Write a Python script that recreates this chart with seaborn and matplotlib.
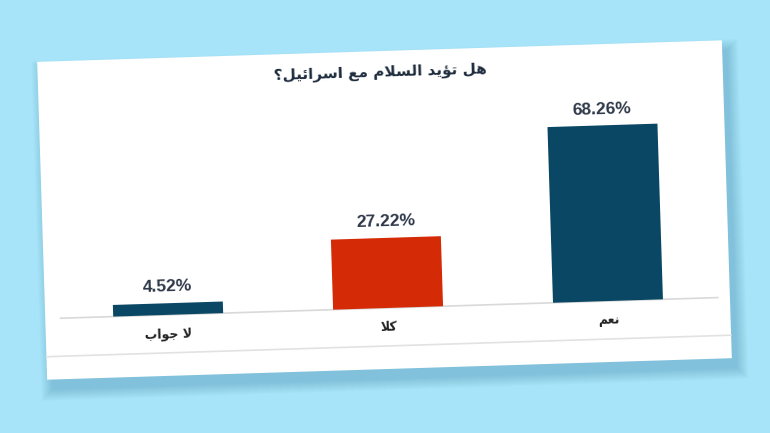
import matplotlib
matplotlib.use("Agg")
import matplotlib.pyplot as plt
from matplotlib.transforms import Affine2D
from matplotlib.patches import Rectangle
import seaborn as sns

# === Data ===
title = "هل تؤيد السلام مع اسرائيل؟"
categories = ["لا جواب", "كلا", "نعم"]
values = [4.52, 27.22, 68.26]
bar_colors = ["#0a4764", "#d42a05", "#0a4764"]

# === Minimal Arabic shaping (matplotlib has no text shaping) ===
# letter: (isolated, final, initial, medial)
FORMS = {
    "\u0627": ("\uFE8D", "\uFE8E", None, None),
    "\u0628": ("\uFE8F", "\uFE90", "\uFE91", "\uFE92"),
    "\u062A": ("\uFE95", "\uFE96", "\uFE97", "\uFE98"),
    "\u062C": ("\uFE9D", "\uFE9E", "\uFE9F", "\uFEA0"),
    "\u062F": ("\uFEA9", "\uFEAA", None, None),
    "\u0631": ("\uFEAD", "\uFEAE", None, None),
    "\u0633": ("\uFEB1", "\uFEB2", "\uFEB3", "\uFEB4"),
    "\u0639": ("\uFEC9", "\uFECA", "\uFECB", "\uFECC"),
    "\u0643": ("\uFED9", "\uFEDA", "\uFEDB", "\uFEDC"),
    "\u0644": ("\uFEDD", "\uFEDE", "\uFEDF", "\uFEE0"),
    "\u0645": ("\uFEE1", "\uFEE2", "\uFEE3", "\uFEE4"),
    "\u0646": ("\uFEE5", "\uFEE6", "\uFEE7", "\uFEE8"),
    "\u0647": ("\uFEE9", "\uFEEA", "\uFEEB", "\uFEEC"),
    "\u0648": ("\uFEED", "\uFEEE", None, None),
    "\u064A": ("\uFEF1", "\uFEF2", "\uFEF3", "\uFEF4"),
    "\u0624": ("\uFE85", "\uFE86", None, None),
    "\u0626": ("\uFE89", "\uFE8A", "\uFE8B", "\uFE8C"),
}


def joins_next(c):
    return c in FORMS and FORMS[c][2] is not None


def shape(text):
    out = []
    n = len(text)
    i = 0
    while i < n:
        c = text[i]
        prev_joins = i > 0 and joins_next(text[i - 1])
        # lam-alef ligature
        if c == "\u0644" and i + 1 < n and text[i + 1] == "\u0627":
            out.append("\uFEFC" if prev_joins else "\uFEFB")
            i += 2
            continue
        if c not in FORMS:
            out.append(c)
            i += 1
            continue
        nxt = text[i + 1] if i + 1 < n else ""
        next_joins = joins_next(c) and nxt in FORMS
        iso, fin, ini, med = FORMS[c]
        if prev_joins and next_joins:
            out.append(med)
        elif prev_joins:
            out.append(fin)
        elif next_joins:
            out.append(ini)
        else:
            out.append(iso)
        i += 1
    return "".join(reversed(out))


# === Figure / tilted card ===
sns.set_theme(style="white")
plt.rcParams["font.family"] = ["Liberation Sans", "DejaVu Sans"]

W, H, DPI = 770, 433, 100
fig = plt.figure(figsize=(W / DPI, H / DPI), dpi=DPI, facecolor="#a8e4f9")

angle = 1.8
rot = Affine2D().rotate_deg_around(385, 223, angle)

card_x, card_y, card_w, card_h = 42, 64, 685, 318

# soft shadow
for k in range(12):
    fig.add_artist(Rectangle((card_x + 5 - k, card_y - 10 - k), card_w + 2 * k, card_h + 2 * k,
                             transform=rot, fc="#3f86a8", ec="none", alpha=0.03, zorder=-10))
fig.add_artist(Rectangle((card_x, card_y), card_w, card_h, transform=rot,
                         fc="white", ec="none", zorder=-5))
# faint frame line near bottom of card
fig.add_artist(plt.Line2D([card_x, card_x + card_w], [87, 87], transform=rot,
                          color="#e2e2e2", lw=1.2, zorder=-4))

# === Chart ===
ax = fig.add_axes([55 / W, 125 / H, 660 / W, 206 / H])
ax.set_zorder(2)
sns.barplot(x=categories, y=values, hue=categories, palette=bar_colors,
            legend=False, width=0.5, saturation=1, ax=ax)
ax.set_xlim(-0.5, 2.5)
ax.set_ylim(0, 80)
ax.axis("off")
ax.set_facecolor("none")

tilted = ax.transData + rot
for p in ax.patches:
    p.set_transform(tilted)
    p.set_clip_on(False)
    p.set_edgecolor("none")

ax.plot([-0.49, 2.5], [0, 0], color="#d9d9d9", lw=1.2, transform=tilted,
        clip_on=False, zorder=0)

for i, v in enumerate(values):
    ax.text(i, v + 3.4, f"{v:.2f}%", transform=tilted, rotation=angle,
            rotation_mode="anchor", ha="center", va="bottom", fontsize=12.5,
            fontweight="bold", color="#2e3848", clip_on=False)
    ax.text(i, -7.6, shape(categories[i]), transform=tilted, rotation=angle,
            rotation_mode="anchor", ha="center", va="center", fontsize=9,
            fontweight="bold", color="#222222", family=["DejaVu Sans"], clip_on=False)

fig.text(385, 361, shape(title), transform=rot, rotation=angle, rotation_mode="anchor",
         ha="center", va="center", fontsize=11, fontweight="bold", color="#1d2b3c",
         family=["DejaVu Sans"])

fig.savefig("out.png", dpi=DPI, facecolor=fig.get_facecolor())
